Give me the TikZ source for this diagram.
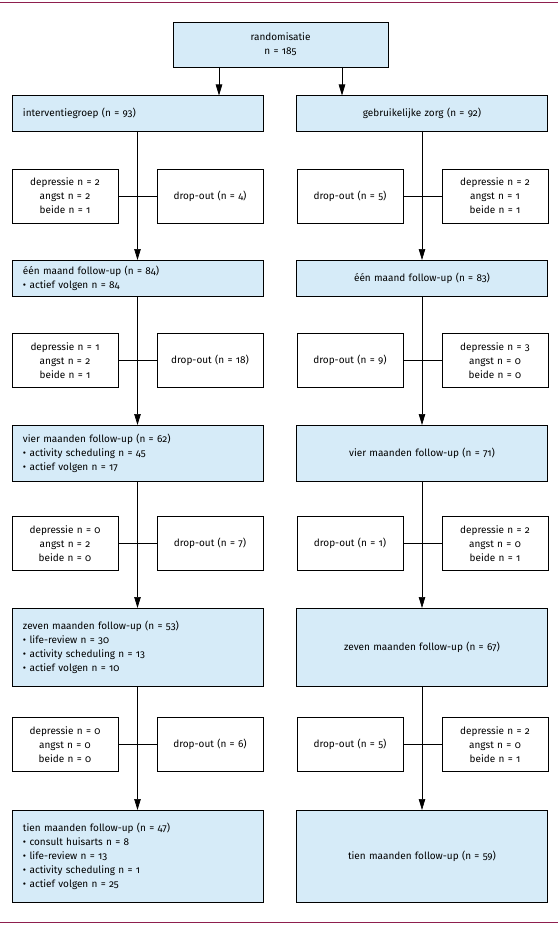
\documentclass[tikz,border=0pt]{standalone}
\usepackage{fontspec}
\setmainfont{Fira Sans}[Numbers=OldStyle]
\usetikzlibrary{arrows.meta}
\definecolor{boxblue}{HTML}{D6EBF8}
\definecolor{rulered}{HTML}{8E1F4E}

\begin{document}
\begin{tikzpicture}[x=1pt,y=-1pt,
  every node/.style={font=\fontsize{10}{14}\selectfont, line width=0.7pt, outer sep=0pt},
  mainbox/.style={draw, fill=boxblue, anchor=north west, text width=229pt, inner xsep=11pt, inner ysep=0pt, align=left},
  mainmid/.style={mainbox, align=center},
  sidebox/.style={draw, anchor=north west, text width=96pt, inner xsep=5pt, inner ysep=0pt, minimum height=54pt, align=center},
  flow/.style={line width=0.7pt, -{Triangle[length=11pt,width=6.5pt]}},
  link/.style={line width=0.7pt}]
\useasboundingbox (0,0) rectangle (558,931);
\draw[rulered, line width=1pt] (0,3) -- (558,3);
\draw[rulered, line width=1pt] (0,922) -- (558,922);

% start
\node[mainmid, text width=193pt, minimum height=45pt] (rand) at (173,22) {randomisatie\\n = 185};

% interventiegroep
\node[mainbox, minimum height=35.5pt] (int1) at (12,95.5) {interventiegroep (n = 93)};
\node[sidebox] (intdep1) at (12,169) {depressie n = 2\\angst n = 2\\beide n = 1};
\node[sidebox] (intdrop1) at (157,169) {drop-out (n = 4)};
\node[mainbox, minimum height=36pt] (int2) at (12,260) {één maand follow-up (n = 84)\\• actief volgen n = 84};
\node[sidebox] (intdep2) at (12,333.5) {depressie n = 1\\angst n = 2\\beide n = 1};
\node[sidebox] (intdrop2) at (157,333.5) {drop-out (n = 18)};
\node[mainbox, minimum height=56pt] (int3) at (12,425) {vier maanden follow-up (n = 62)\\• activity scheduling n = 45\\• actief volgen n = 17};
\node[sidebox] (intdep3) at (12,516.5) {depressie n = 0\\angst n = 2\\beide n = 0};
\node[sidebox] (intdrop3) at (157,516.5) {drop-out (n = 7)};
\node[mainbox, minimum height=78pt] (int4) at (12,608) {zeven maanden follow-up (n = 53)\\• life-review n = 30\\• activity scheduling n = 13\\• actief volgen n = 10};
\node[sidebox] (intdep4) at (12,717.5) {depressie n = 0\\angst n = 0\\beide n = 0};
\node[sidebox] (intdrop4) at (157,717.5) {drop-out (n = 6)};
\node[mainbox, minimum height=92pt] (int5) at (12,810) {tien maanden follow-up (n = 47)\\• consult huisarts n = 8\\• life-review n = 13\\• activity scheduling n = 1\\• actief volgen n = 25};

% gebruikelijke zorg
\node[mainmid, minimum height=35.5pt] (gz1) at (296.5,95.5) {gebruikelijke zorg (n = 92)};
\node[sidebox] (gzdrop1) at (297,169) {drop-out (n = 5)};
\node[sidebox] (gzdep1) at (442,169) {depressie n = 2\\angst n = 1\\beide n = 1};
\node[mainmid, minimum height=36pt] (gz2) at (296.5,260) {één maand follow-up (n = 83)};
\node[sidebox] (gzdrop2) at (297,333.5) {drop-out (n = 9)};
\node[sidebox] (gzdep2) at (442,333.5) {depressie n = 3\\angst n = 0\\beide n = 0};
\node[mainmid, minimum height=56pt] (gz3) at (296.5,425) {vier maanden follow-up (n = 71)};
\node[sidebox] (gzdrop3) at (297,516.5) {drop-out (n = 1)};
\node[sidebox] (gzdep3) at (442,516.5) {depressie n = 2\\angst n = 0\\beide n = 1};
\node[mainmid, minimum height=78pt] (gz4) at (296.5,608) {zeven maanden follow-up (n = 67)};
\node[sidebox] (gzdrop4) at (297,717.5) {drop-out (n = 5)};
\node[sidebox] (gzdep4) at (442,717.5) {depressie n = 2\\angst n = 0\\beide n = 1};
\node[mainmid, minimum height=92pt] (gz5) at (296.5,810) {tien maanden follow-up (n = 59)};

% arrows
\draw[flow] ([xshift=46pt]rand.south west) -- ([xshift=46pt]rand.south west |- int1.north);
\draw[flow] ([xshift=-46pt]rand.south east) -- ([xshift=-46pt]rand.south east |- gz1.north);
\draw[flow] (int1) -- (int2);
\draw[flow] (int2) -- (int3);
\draw[flow] (int3) -- (int4);
\draw[flow] (int4) -- (int5);
\draw[flow] (gz1) -- (gz2);
\draw[flow] (gz2) -- (gz3);
\draw[flow] (gz3) -- (gz4);
\draw[flow] (gz4) -- (gz5);
\draw[link] (intdep1) -- (intdrop1);
\draw[link] (intdep2) -- (intdrop2);
\draw[link] (intdep3) -- (intdrop3);
\draw[link] (intdep4) -- (intdrop4);
\draw[link] (gzdrop1) -- (gzdep1);
\draw[link] (gzdrop2) -- (gzdep2);
\draw[link] (gzdrop3) -- (gzdep3);
\draw[link] (gzdrop4) -- (gzdep4);
\end{tikzpicture}
\end{document}
